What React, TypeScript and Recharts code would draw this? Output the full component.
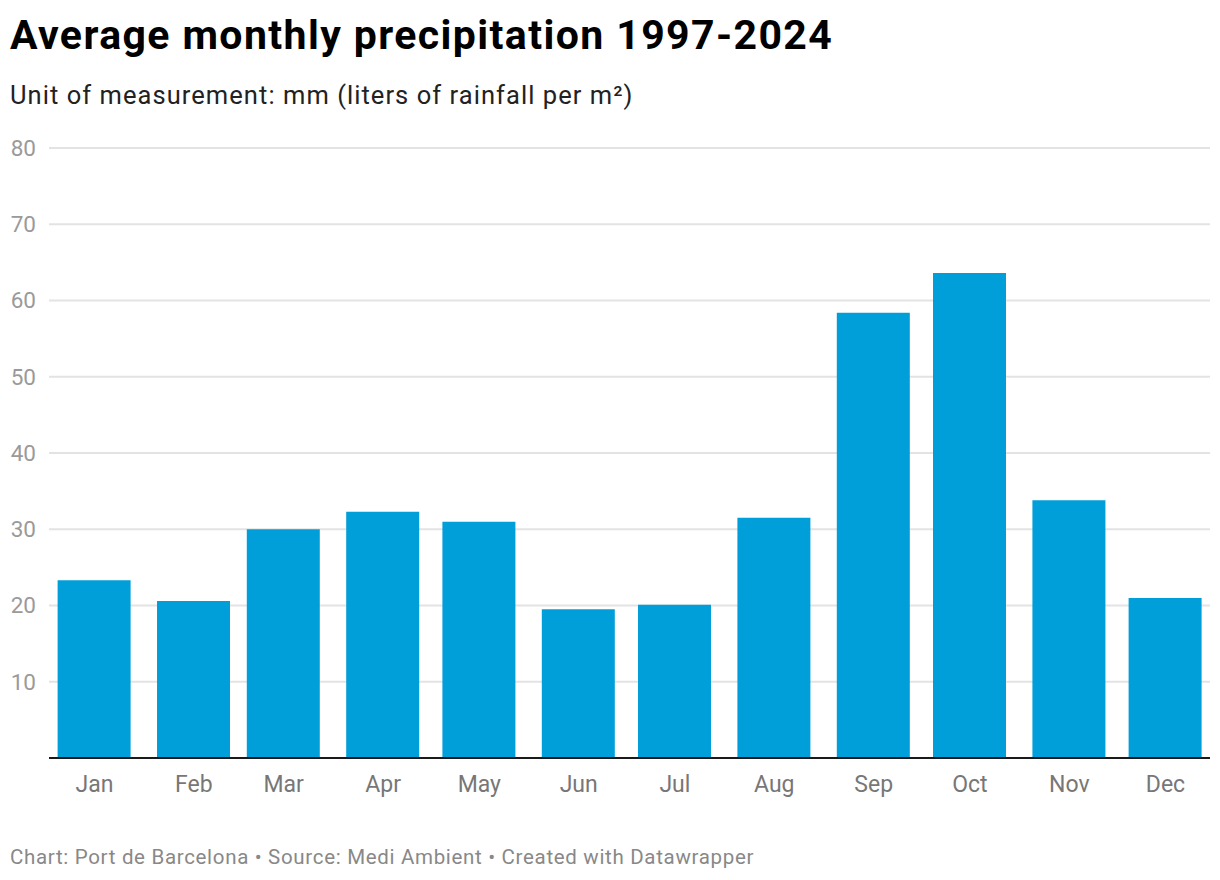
import React from "react"
import { BarChart, Bar, XAxis, YAxis, CartesianGrid } from "recharts"

const months = ["Jan", "Feb", "Mar", "Apr", "May", "Jun", "Jul", "Aug", "Sep", "Oct", "Nov", "Dec"]
// day of year of the 1st of each month (bars sit on a date axis)
const monthStartDays = [0, 31, 59, 90, 120, 151, 181, 212, 243, 273, 304, 334]
const precipitation = [23.3, 20.6, 30.0, 32.3, 31.0, 19.5, 20.1, 31.5, 58.4, 63.6, 33.8, 21.0]
const yTicks = [10, 20, 30, 40, 50, 60, 70, 80]

const data = months.map((month, i) => ({ month, day: monthStartDays[i], value: precipitation[i] }))

const FONT = "Roboto, 'Noto Sans', sans-serif"

export default function App() {
  return (
    <div
      style={{
        position: "absolute",
        left: 0,
        top: 0,
        width: 1220,
        height: 880,
        background: "#fff",
        fontFamily: FONT,
      }}
    >
      <div
        style={{
          position: "absolute",
          left: 10,
          top: 15,
          fontSize: 41,
          lineHeight: 1,
          fontWeight: 700,
          letterSpacing: 1.4,
          color: "#000",
          whiteSpace: "nowrap",
        }}
      >
        Average monthly precipitation 1997-2024
      </div>
      <div
        style={{
          position: "absolute",
          left: 10,
          top: 83,
          fontSize: 25.5,
          lineHeight: 1,
          letterSpacing: 1.05,
          color: "#222",
          whiteSpace: "nowrap",
        }}
      >
        Unit of measurement: mm (liters of rainfall per m²)
      </div>

      <div style={{ position: "absolute", left: 0, top: 0 }}>
        <BarChart
          width={1220}
          height={880}
          data={data}
          margin={{ top: 148, right: 10, bottom: 92, left: 0 }}
        >
          <CartesianGrid vertical={false} stroke="#e3e3e3" strokeWidth={2} />
          <XAxis
            dataKey="day"
            type="number"
            domain={[0, 334]}
            ticks={monthStartDays}
            tickFormatter={(v) => months[monthStartDays.indexOf(v)] ?? ""}
            padding={{ left: 45.5, right: 44.5 }}
            height={30}
            tickLine={false}
            tickSize={0}
            tickMargin={18}
            axisLine={{ stroke: "#1a1a1a", strokeWidth: 2 }}
            tick={{ fill: "#777", fontSize: 23, fontFamily: FONT }}
            interval={0}
          />
          <YAxis
            domain={[0, 80]}
            ticks={yTicks}
            width={49}
            axisLine={false}
            tickLine={false}
            tickSize={0}
            tickMargin={13}
            tick={{ fill: "#9a9a9a", fontSize: 22.5, fontFamily: FONT }}
          />
          <Bar dataKey="value" fill="#019fd9" barSize={73} isAnimationActive={false} />
        </BarChart>
      </div>

      <div
        style={{
          position: "absolute",
          left: 10,
          top: 847,
          fontSize: 20.5,
          lineHeight: 1,
          letterSpacing: 0.68,
          color: "#888",
          whiteSpace: "nowrap",
        }}
      >
        Chart: Port de Barcelona • Source: Medi Ambient • Created with Datawrapper
      </div>
    </div>
  )
}
